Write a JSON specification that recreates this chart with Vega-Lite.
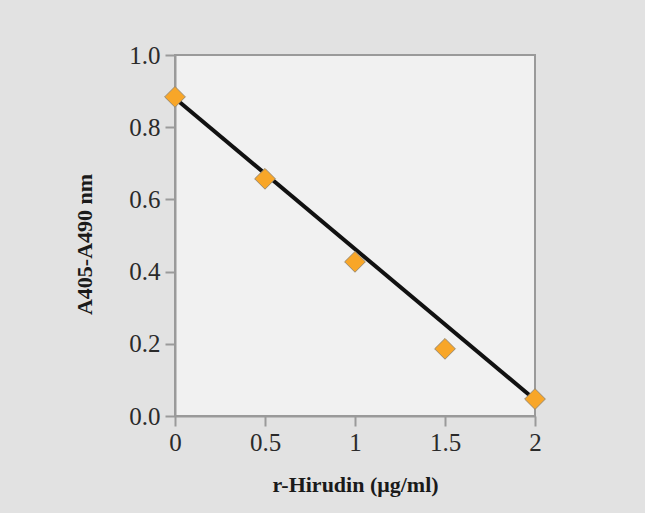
{
  "$schema": "https://vega.github.io/schema/vega-lite/v6.json",
  "width": 360,
  "height": 361,
  "autosize": {"type": "none"},
  "padding": {"left": 175, "top": 55, "right": 110, "bottom": 97},
  "background": "#e2e2e2",
  "config": {
    "view": {"fill": "#f1f1f1", "stroke": "#9a9a9a", "strokeWidth": 2},
    "font": "Liberation Serif",
    "axis": {
      "grid": false,
      "domainColor": "#9a9a9a",
      "domainWidth": 2,
      "tickColor": "#9a9a9a",
      "tickWidth": 2,
      "tickSize": 10,
      "labelFont": "Liberation Serif",
      "labelFontSize": 25,
      "labelColor": "#2a2a2a",
      "titleFont": "Liberation Serif",
      "titleFontWeight": "bold",
      "titleFontSize": 22,
      "titleColor": "#1a1a1a"
    }
  },
  "datasets": {
    "measured": [
      {"hirudin": 0, "absorbance": 0.884},
      {"hirudin": 0.5, "absorbance": 0.657},
      {"hirudin": 1, "absorbance": 0.427},
      {"hirudin": 1.5, "absorbance": 0.186},
      {"hirudin": 2, "absorbance": 0.047}
    ],
    "fit": [
      {"hirudin": 0, "absorbance": 0.88},
      {"hirudin": 2, "absorbance": 0.045}
    ]
  },
  "layer": [
    {
      "data": {"name": "fit"},
      "mark": {"type": "line", "color": "#111111", "strokeWidth": 4},
      "encoding": {
        "x": {"field": "hirudin", "type": "quantitative"},
        "y": {"field": "absorbance", "type": "quantitative"}
      }
    },
    {
      "data": {"name": "measured"},
      "mark": {"type": "point", "shape": "diamond", "filled": true, "size": 430, "fill": "#f8a628", "stroke": "#9a8a70", "strokeWidth": 1, "opacity": 1},
      "encoding": {
        "x": {
          "field": "hirudin",
          "type": "quantitative",
          "scale": {"domain": [0, 2], "nice": false, "zero": false},
          "axis": {"values": [0, 0.5, 1, 1.5, 2], "format": "~g", "title": "r-Hirudin (μg/ml)", "labelPadding": 4, "titlePadding": 19, "labelFlush": false}
        },
        "y": {
          "field": "absorbance",
          "type": "quantitative",
          "scale": {"domain": [0, 1], "nice": false},
          "axis": {"values": [0, 0.2, 0.4, 0.6, 0.8, 1.0], "format": ".1f", "title": "A405-A490 nm", "labelPadding": 5, "titlePadding": 32, "titleY": 189, "labelFlush": false}
        }
      }
    }
  ]
}
